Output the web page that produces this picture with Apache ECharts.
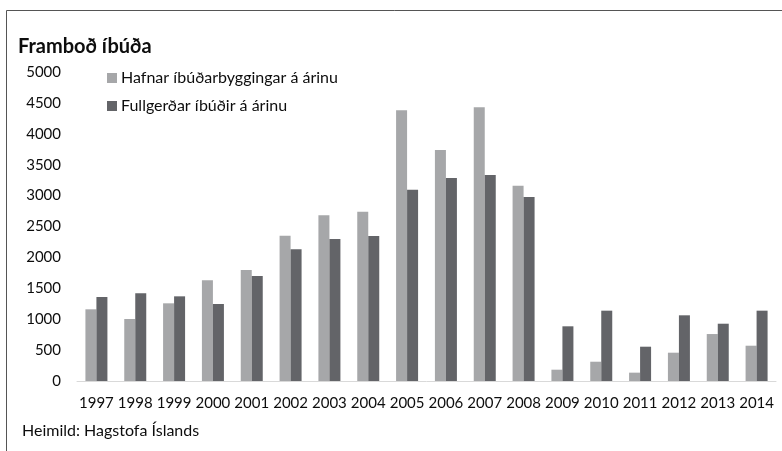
<!DOCTYPE html>
<html>
<head>
<meta charset="utf-8">
<script src="https://cdn.jsdelivr.net/npm/echarts@6/dist/echarts.min.js"></script>
<style>
html,body{margin:0;padding:0;background:#fff;}
#c{width:782px;height:451px;}
</style>
</head>
<body>
<div id="c"></div>
<script>
var years = ['1997','1998','1999','2000','2001','2002','2003','2004','2005','2006','2007','2008','2009','2010','2011','2012','2013','2014'];
var hafnar = [1160,1003,1257,1629,1796,2351,2681,2740,4380,3738,4429,3160,183,312,135,458,760,571];
var fullgerdar = [1359,1419,1370,1246,1699,2131,2298,2346,3096,3285,3333,2977,885,1138,555,1063,927,1138];
var seriesNames = ['Hafnar íbúðarbyggingar á árinu','Fullgerðar íbúðir á árinu'];
var titleText = 'Framboð íbúða';
var sourceText = 'Heimild: Hagstofa Íslands';

var font = 'Lato, "Open Sans", sans-serif';
var chart = echarts.init(document.getElementById('c'), null, {renderer:'canvas'});
chart.setOption({
  animation:false,
  backgroundColor:'#fff',
  textStyle:{fontFamily:font},
  title:{
    text:titleText, left:13, top:32,
    textStyle:{fontFamily:font, fontSize:20, fontWeight:'bold', color:'#0d0d0d'}
  },
  graphic:[
    {type:'rect', shape:{x:6.5,y:10.5,width:800,height:500}, style:{fill:'none', stroke:'#555', lineWidth:1}, silent:true, z:-1},
    {type:'text', left:22, top:423, style:{text:sourceText, fontFamily:font, fontSize:16, fill:'#0d0d0d'}}
  ],
  legend:{
    orient:'vertical', left:107, top:69, padding:0,
    itemWidth:10, itemHeight:10, itemGap:10, icon:'rect',
    textStyle:{fontFamily:font, fontSize:16, color:'#0d0d0d', lineHeight:18, padding:[0,0,0,-1]},
    data:seriesNames
  },
  grid:{left:77, right:6, top:72, bottom:70, containLabel:false},
  xAxis:{
    type:'category', data:years,
    axisLine:{lineStyle:{color:'#d9d9d9', width:1}},
    axisTick:{show:false},
    axisLabel:{color:'#0d0d0d', fontSize:15, margin:15, fontFamily:font, interval:0}
  },
  yAxis:{
    type:'value', min:0, max:5000, interval:500,
    axisLine:{show:false}, axisTick:{show:false},
    splitLine:{show:false},
    axisLabel:{color:'#0d0d0d', fontSize:15, margin:16, fontFamily:font, formatter:function(v){return String(v);}}
  },
  series:[
    {name:seriesNames[0], type:'bar', data:hafnar, barWidth:11, barGap:'0%', itemStyle:{color:'#a6a7a9'}},
    {name:seriesNames[1], type:'bar', data:fullgerdar, barWidth:11, barGap:'0%', itemStyle:{color:'#636468'}}
  ]
});
</script>
</body>
</html>
